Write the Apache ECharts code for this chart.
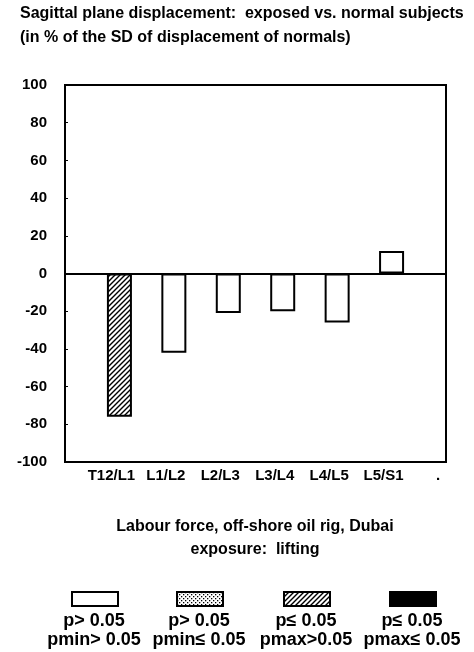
<!DOCTYPE html>
<html>
<head>
<meta charset="utf-8">
<script src="https://cdn.jsdelivr.net/npm/echarts@6/dist/echarts.min.js"></script>
<style>
html,body{margin:0;padding:0;background:#fff;}
#chart{width:474px;height:652px;}
</style>
</head>
<body>
<div id="chart"></div>
<script>
// ---- data ----
var categories = ['', 'T12/L1', 'L1/L2', 'L2/L3', 'L3/L4', 'L4/L5', 'L5/S1', '.'];
var values = [null, -76, -42, -21, -20, -26, 12, null];
// significance class per bar: 0 = p>0.05 pmin>0.05, 1 = p>0.05 pmin<=0.05, 2 = p<=0.05 pmax>0.05, 3 = p<=0.05 pmax<=0.05
var classes = [null, 2, 0, 0, 0, 0, 0, null];
var legendLine1 = ['p> 0.05', 'p> 0.05', 'p\u2264 0.05', 'p\u2264 0.05'];
var legendLine2 = ['pmin> 0.05', 'pmin\u2264 0.05', 'pmax>0.05', 'pmax\u2264 0.05'];
var titleLines = ['Sagittal plane displacement:  exposed vs. normal subjects', '(in % of the SD of displacement of normals)'];
var subtitleLines = ['Labour force, off-shore oil rig, Dubai', 'exposure:  lifting'];
var yMin = -100, yMax = 100, yStep = 20;

// ---- patterns ----
function hatchCanvas() {
  var s = 5, c = document.createElement('canvas');
  c.width = s; c.height = s;
  var g = c.getContext('2d');
  g.fillStyle = '#fff'; g.fillRect(0, 0, s, s);
  g.strokeStyle = '#000'; g.lineWidth = 1.4;
  g.beginPath();
  g.moveTo(-1, s + 1); g.lineTo(s + 1, -1);
  g.moveTo(-1, 1); g.lineTo(1, -1);
  g.moveTo(s - 1, s + 1); g.lineTo(s + 1, s - 1);
  g.stroke();
  return c;
}
function dotCanvas() {
  var s = 4, c = document.createElement('canvas');
  c.width = s; c.height = s;
  var g = c.getContext('2d');
  g.fillStyle = '#fff'; g.fillRect(0, 0, s, s);
  g.fillStyle = '#000';
  g.fillRect(0, 0, 1.3, 1.3);
  g.fillRect(2, 2, 1.3, 1.3);
  return c;
}
var fills = [
  '#ffffff',
  {type: 'pattern', image: dotCanvas(), repeat: 'repeat'},
  {type: 'pattern', image: hatchCanvas(), repeat: 'repeat'},
  '#000000'
];

var FONT = "'Liberation Sans', Arial, Helvetica, sans-serif";

var barData = values.map(function (v, i) {
  if (v === null) return null;
  return {value: v, itemStyle: {color: fills[classes[i]], borderColor: '#000', borderWidth: 2}};
});

// legend graphics
var legendCenters = [94, 199, 306, 412];
var graphics = [];
legendCenters.forEach(function (cx, i) {
  graphics.push({
    type: 'rect', left: cx - 23, top: 591,
    shape: {width: 46, height: 14},
    style: {fill: fills[i], stroke: '#000', lineWidth: 2}
  });
  graphics.push({
    type: 'text', x: cx, y: 621,
    style: {text: legendLine1[i], fill: '#000', font: 'bold 18px ' + FONT, textAlign: 'center', textVerticalAlign: 'middle'}
  });
  graphics.push({
    type: 'text', x: cx, y: 640,
    style: {text: legendLine2[i], fill: '#000', font: 'bold 18px ' + FONT, textAlign: 'center', textVerticalAlign: 'middle'}
  });
});
subtitleLines.forEach(function (t, i) {
  graphics.push({
    type: 'text', x: 255, y: 527 + i * 23,
    style: {text: t, fill: '#000', font: 'bold 16px ' + FONT, textAlign: 'center', textVerticalAlign: 'middle'}
  });
});

var chart = echarts.init(document.getElementById('chart'), null, {renderer: 'canvas'});
chart.setOption({
  animation: false,
  backgroundColor: '#fff',
  title: {
    text: titleLines.join('\n'),
    left: 20, top: 2, padding: 0,
    textStyle: {fontFamily: FONT, fontSize: 16, fontWeight: 'bold', color: '#000', lineHeight: 24}
  },
  grid: {left: 65, right: 28, top: 85, bottom: 190, show: true, borderColor: '#000', borderWidth: 2, backgroundColor: 'transparent'},
  xAxis: {
    type: 'category',
    data: categories,
    boundaryGap: false,
    axisLine: {onZero: false, lineStyle: {color: '#000', width: 2}},
    axisTick: {show: false},
    splitLine: {show: false},
    axisLabel: {
      interval: 0, margin: 6, color: '#000', fontFamily: FONT, fontSize: 15, fontWeight: 'bold',
      padding: [0, 16, 0, 0]
    }
  },
  yAxis: {
    type: 'value', min: yMin, max: yMax, interval: yStep,
    axisLine: {show: true, lineStyle: {color: '#000', width: 2}},
    axisTick: {show: true, inside: true, length: 3, lineStyle: {color: '#000'}},
    splitLine: {show: false},
    axisLabel: {margin: 18, color: '#000', fontFamily: FONT, fontSize: 15, fontWeight: 'bold'}
  },
  series: [{
    type: 'bar',
    data: barData,
    barWidth: 25,
    markLine: {
      silent: true, symbol: ['none', 'none'], label: {show: false},
      lineStyle: {color: '#000', width: 2, type: 'solid'},
      data: [{yAxis: 0}]
    }
  }],
  graphic: graphics
});
</script>
</body>
</html>
